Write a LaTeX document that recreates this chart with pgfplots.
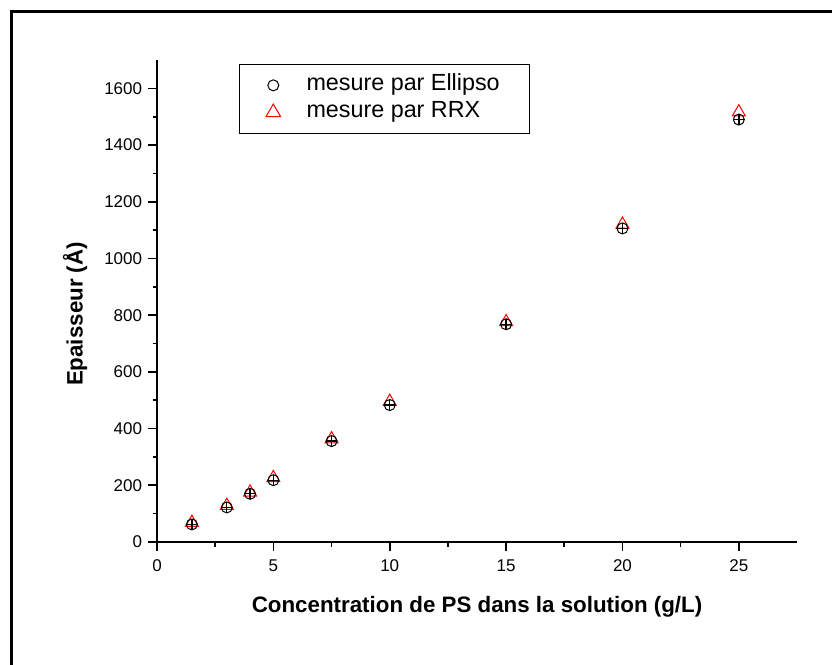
\documentclass[border=0pt]{standalone}
\usepackage{pgfplots}
\pgfplotsset{compat=1.18}
\usepackage{fontspec}
\setmainfont{Liberation Sans}

% Ellipso and RRX thickness against PS concentration
\pgfplotstableread{
x y
1.5 62
3 122
4 170
5 218
7.5 356
10 483
15 768
20 1106
25 1490
}\ellipso
\pgfplotstableread{
x y
1.5 68
3 128
4 175
5 226
7.5 363
10 495
15 776
20 1120
25 1516
}\rrx

\begin{document}
\begin{tikzpicture}
\useasboundingbox (0,0) rectangle (499.2pt,398.4pt);
\draw[line width=1.6pt] (6.8pt,-5pt) -- (6.8pt,391.6pt) -- (510pt,391.6pt);
\begin{axis}[
  at={(94.2pt,73.2pt)}, anchor=origin,
  scale only axis, width=384pt, height=289.2pt,
  xmin=0, xmax=27.5, ymin=0, ymax=1700,
  axis x line*=bottom, axis y line*=left,
  axis line style={line width=1pt, -},
  xtick={0,5,...,25}, ytick={0,200,...,1600},
  minor x tick num=1, minor y tick num=1,
  tick align=outside,
  major tick length=5.4pt, minor tick length=2.7pt,
  every tick/.style={black, line width=1pt},
  tick label style={font=\fontsize{10.2}{12}\selectfont},
  xticklabel style={yshift=-1.5pt},
  /pgf/number format/assume math mode=true,
  /pgf/number format/1000 sep={},
  xlabel={\bfseries Concentration de PS dans la solution (g/L)},
  ylabel={\bfseries Epaisseur (Å)},
  label style={font=\fontsize{13.4}{16}\selectfont},
  xlabel style={at={(axis description cs:0.5,-0.135)}, anchor=center},
  ylabel style={at={(axis description cs:-0.128,0.473)}, anchor=center, rotate=0},
  legend style={at={(0.128,0.992)}, anchor=north west, draw=black, line width=0.6pt,
    font=\fontsize{14}{16}\selectfont, legend cell align=left,
    inner xsep=16pt, inner ysep=4.5pt,
    nodes={text height=9.5pt, text depth=3.5pt, inner sep=1.6pt}},
  /tikz/every odd column/.append style={column sep=14pt},
]
\addplot[only marks, mark=triangle, mark size=4.5pt, red, mark options={line width=0.6pt}, forget plot] table[x=x,y=y] {\rrx};
\addplot[only marks, mark=o, mark size=3.3pt, black, mark options={line width=0.6pt}] table[x=x,y=y] {\ellipso};
\addplot[only marks, mark=+, mark size=3.3pt, black, mark options={line width=0.8pt}, forget plot] table[x=x,y=y] {\ellipso};
\addlegendimage{only marks, mark=triangle, mark size=5pt, red, mark options={line width=0.6pt}}
\legend{mesure par Ellipso, mesure par RRX}
\end{axis}
\end{tikzpicture}
\end{document}
